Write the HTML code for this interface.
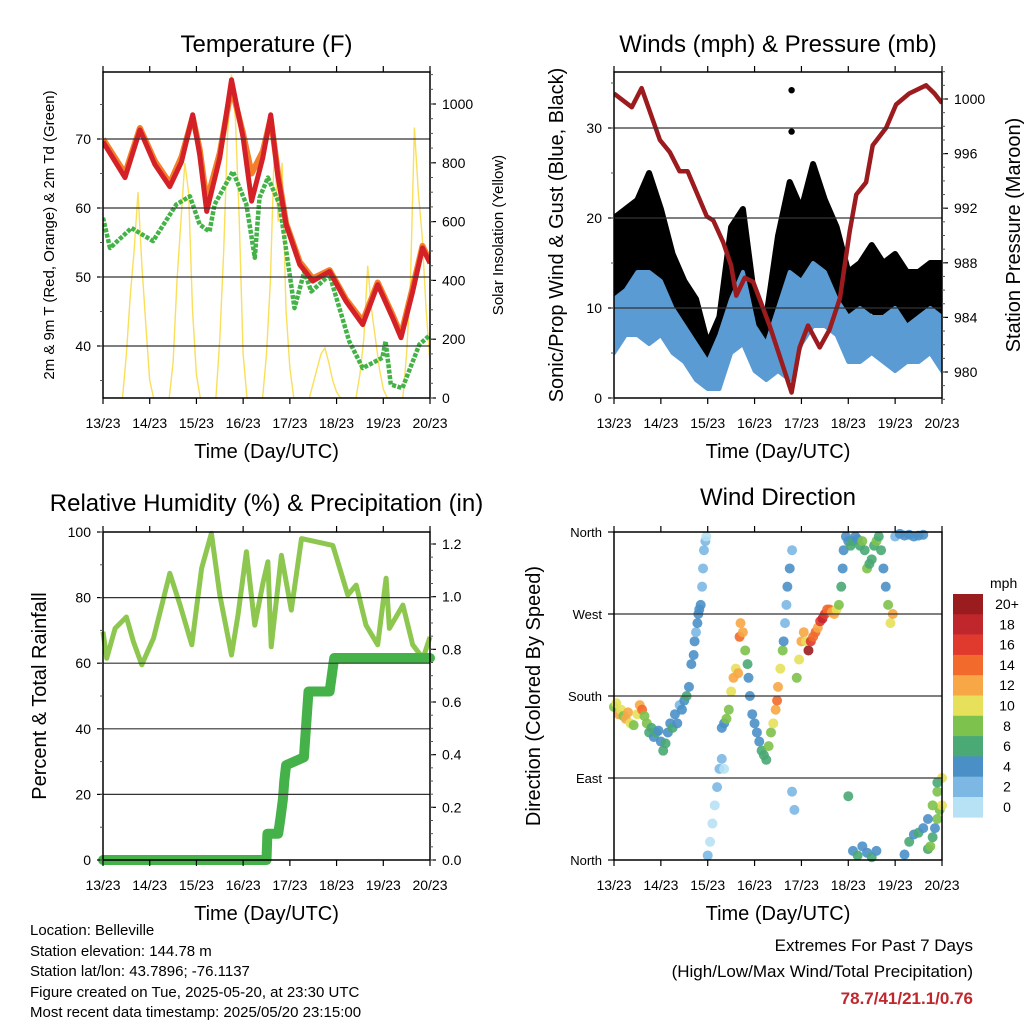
<!DOCTYPE html>
<html><head><meta charset="utf-8">
<style>
html,body{margin:0;padding:0;background:#fff;}
svg{display:block;font-family:"Liberation Sans",Arial,sans-serif;}
</style></head>
<body>
<svg id="chart" width="1024" height="1024" viewBox="0 0 1024 1024" xmlns="http://www.w3.org/2000/svg">
<rect width="1024" height="1024" fill="#fff"/>
<defs>
<clipPath id="c1"><rect x="103" y="72" width="327" height="326"/></clipPath>
<clipPath id="c2"><rect x="614" y="72" width="328" height="326"/></clipPath>
</defs>
<g id="layer"></g>
<g font-size="15" fill="#000">
<text x="30" y="935">Location: Belleville</text>
<text x="30" y="956">Station elevation: 144.78 m</text>
<text x="30" y="976">Station lat/lon: 43.7896; -76.1137</text>
<text x="30" y="997">Figure created on Tue, 2025-05-20, at 23:30 UTC</text>
<text x="30" y="1017">Most recent data timestamp: 2025/05/20 23:15:00</text>
</g>
<g text-anchor="end">
<text x="973" y="951" font-size="17">Extremes For Past 7 Days</text>
<text x="973" y="977" font-size="17">(High/Low/Max Wind/Total Precipitation)</text>
<text x="973" y="1004" font-size="17" font-weight="bold" fill="#c0272d">78.7/41/21.1/0.76</text>
</g>
</svg>
<script>
// ---------- DATA ----------
const dayLabels = ["13/23","14/23","15/23","16/23","17/23","18/23","19/23","20/23"];
const tempDays = [0,0.47,0.79,1.11,1.43,1.68,1.92,2.07,2.22,2.5,2.75,3.0,3.18,3.42,3.59,3.74,3.92,4.21,4.49,4.85,5.2,5.56,5.88,6.2,6.38,6.63,6.84,7.0];
const tempRed = [69.6,64.4,71.3,66.3,63.1,66.7,73.5,67.7,59.5,67.3,78.6,70.2,61,67.3,73.5,64.8,57.6,51.8,49.4,50.8,46.5,43.1,48.9,44.1,41.2,47.9,54.2,52];
const tempOrange = [70,65,71.6,66.8,63.6,67.4,73.2,68.5,61,68,77.5,70.8,65,68.2,73,65.4,57.8,52.2,49.8,51,46.8,43.6,49.2,44.5,41.6,48.5,54.5,52.3];
const dewDays = [0,0.15,0.61,1.07,1.57,1.86,2.07,2.28,2.39,2.78,3.07,3.25,3.35,3.53,3.78,4.1,4.31,4.46,4.85,5.27,5.56,5.98,6.05,6.16,6.41,6.77,7.0];
const dewPt = [58.6,54.2,57.1,55.2,60.5,61.7,57.6,56.6,60.5,65.3,60.5,52.8,61.5,64.4,60.5,45.5,50.8,47.9,50.3,40.7,36.8,38.3,40.7,34.4,33.9,40.2,41.6];
const solarStepHours = 2;
const solar = [0,0,0,0,0, 0,150,350,500,700,450,250,60,0, 0,0,0, 0,120,400,600,800,700,300,80,0, 0,0,0, 0,200,500,900,1100,950,600,150,0, 0,0,0, 0,150,400,850,600,800,300,100,0, 0,0,0, 0,50,100,150,170,120,60,20,0, 0,0,0, 0,80,200,450,300,200,100,30,0, 0,0,0, 0,150,400,920,700,550,300,120];
const windDays = [0,0.25,0.5,0.75,1,1.25,1.5,1.75,2,2.25,2.5,2.75,3,3.25,3.5,3.75,4,4.25,4.5,4.75,5,5.25,5.5,5.75,6,6.25,6.5,6.75,7];
const sustLo = [5,7,7,6,7,5,4,2,1,1,5,6,3,2,3,2,6,8,8,7,4,4,5,4,3,4,4,5,3];
const sustHi = [11,12,14,14,13,10,8,6,4,7,11,14,8,6,10,14,13,15,14,11,9,10,9,9,10,8,9,10,9];
const gustLo = [9,10,12,12,10,8,6,4,2,3,9,10,5,4,8,8,10,13,12,10,8,8,10,8,9,8,8,9,8];
const gustHi = [20,21,22,25,21,16,13,11,6,9,19,21,11,9,18,24,21,26,22,19,14,15,17,15,16,14,14,15,15];
const gustOutDays = [3.79,3.79];
const gustOutVals = [34.2,29.6];
const presDays = [0,0.38,0.59,0.98,1.19,1.4,1.57,1.98,2.12,2.33,2.5,2.61,2.79,2.97,3.32,3.57,3.79,3.96,4.14,4.39,4.6,4.82,5.03,5.17,5.38,5.52,5.81,6.02,6.3,6.66,6.84,7.0];
const pressure = [1000.4,999.4,1000.8,997,996.1,994.7,994.7,991.4,991.1,989.5,987.8,985.6,986.9,986.6,983.4,980.8,978.5,981.8,983.4,981.8,983.1,985.4,990.3,993,993.9,996.6,997.9,999.6,1000.4,1001,1000.4,999.7];
const rhDays = [0,0.08,0.26,0.5,0.65,0.83,1.08,1.43,1.65,1.9,2.11,2.32,2.5,2.75,2.89,3.07,3.25,3.43,3.53,3.6,3.82,4.03,4.25,4.57,4.92,5.24,5.42,5.63,5.88,6.06,6.13,6.42,6.63,6.85,7.0];
const rh = [69.6,61.5,70.6,74.1,66.6,59.5,67.6,87.4,77.7,65.6,88.9,99.6,80.8,62.5,74.7,94,71.6,84.8,90.9,65,92.9,76.2,98,97,95.9,80.8,83.8,71.6,65.6,85.9,70.6,77.7,65.6,61.5,68];
const rainDays = [0,3.5,3.52,3.75,3.8,3.85,3.88,3.92,4.3,4.4,4.85,4.95,7.0];
const rain = [0,0,0.1,0.1,0.16,0.23,0.3,0.36,0.39,0.64,0.64,0.767,0.767];
const dirDays = [0.0,0.05,0.1,0.15,0.2,0.25,0.3,0.35,0.42,0.5,0.55,0.6,0.65,0.7,0.75,0.8,0.85,0.9,0.95,1.0,1.05,1.1,1.15,1.2,1.25,1.3,1.35,1.4,1.45,1.5,1.55,1.6,1.65,1.7,1.72,1.75,1.78,1.8,1.82,1.85,1.88,1.9,1.92,1.95,1.97,2.0,2.05,2.1,2.15,2.2,2.25,2.3,2.35,2.3,2.35,2.4,2.45,2.5,2.55,2.6,2.65,2.68,2.7,2.75,2.8,2.85,2.87,2.9,2.95,3.0,3.05,3.1,3.15,3.2,3.25,3.3,3.35,3.4,3.45,3.48,3.5,3.55,3.6,3.62,3.65,3.68,3.7,3.75,3.8,3.8,3.85,3.9,3.95,4.0,4.05,4.1,4.15,4.2,4.25,4.3,4.35,4.4,4.45,4.5,4.55,4.6,4.65,4.7,4.75,4.8,4.85,4.88,4.9,4.95,5.0,5.05,5.1,5.15,5.2,5.25,5.3,5.35,5.4,5.45,5.5,5.55,5.6,5.65,5.7,5.75,5.8,5.85,5.9,5.95,6.0,6.1,6.2,6.3,6.4,6.5,6.6,6.7,6.75,6.8,6.85,6.9,6.95,7.0,5.0,5.1,5.2,5.3,5.4,5.5,5.6,6.2,6.3,6.4,6.5,6.6,6.7,6.8,6.9,7.0,6.9,6.95];
const dirDeg = [168,172,160,165,158,155,162,150,148,160,170,165,158,150,140,145,135,140,142,130,120,128,140,150,145,160,150,170,165,175,180,190,215,225,240,250,260,270,275,280,300,320,340,350,355,5,20,40,60,80,100,111,100,145,150,155,165,185,200,210,205,245,260,250,230,215,200,180,160,150,140,130,120,115,110,125,140,150,165,175,190,210,230,240,260,280,300,320,340,75,55,200,220,240,250,240,230,240,245,250,255,262,265,270,275,275,272,270,275,280,300,320,340,355,350,345,350,355,352,345,350,340,320,325,330,345,350,355,340,320,300,280,260,270,355,358,356,357,355,356,357,12,15,25,35,45,55,60,70,10,5,15,8,3,10,6,20,28,30,35,45,60,75,90,85];
const dirSpeed = [9,11,12,10,9,13,12,10,8,11,12,14,9,8,6,7,5,6,4,4,6,7,5,5,6,5,4,3,4,4,6,5,4,4,5,3,4,4,5,4,3,2,2,2,1,2,1,1,1,2,2,2,1,4,5,8,9,10,12,11,13,14,13,12,8,6,4,4,4,4,5,5,6,7,7,8,9,10,12,14,12,11,9,4,3,2,4,5,3,2,2,8,10,13,12,10,20,17,15,14,12,16,18,17,15,14,13,12,11,9,6,4,4,5,4,6,7,5,4,6,8,7,8,6,6,7,8,6,6,5,5,8,10,12,3,4,4,5,4,4,5,7,8,6,5,9,8,10,7,5,6,4,5,6,5,4,6,5,6,5,4,8,9,10,7,8];
const speedColors = ["#b7e1f5","#7cb8e3","#4a90c6","#4aa974","#7dc24c","#e6e05a","#f7a745","#f26a2c","#e03a2e","#c0272d","#9b1c1f"];
const legendLabels = ["0","2","4","6","8","10","12","14","16","18","20+"];

// ---------- HELPERS ----------
const NS = "http://www.w3.org/2000/svg";
const layer = document.getElementById('layer');
function mk(tag, attrs, parent){
  const e = document.createElementNS(NS, tag);
  for (const k in attrs) e.setAttribute(k, attrs[k]);
  (parent||layer).appendChild(e);
  return e;
}
function txt(s, attrs, parent){ const e = mk('text', attrs, parent); e.textContent = s; return e; }
function scale(d0,d1,r0,r1){ return v => r0 + (v-d0)/(d1-d0)*(r1-r0); }
function pathFrom(xs, ys, fx, fy){ return xs.map((d,i)=>(i?'L':'M')+fx(d).toFixed(1)+','+fy(ys[i]).toFixed(1)).join(''); }
function rng(a,b,s){ const r=[]; for(let v=a; v<=b+1e-9; v+=s) r.push(+v.toFixed(4)); return r; }

function frame(p){
  const g = mk('g', {});
  
  
  p.grid.forEach(v=>{
    const ln = mk('line',{x1:p.x0,x2:p.x1,y1:p.fy(v),y2:p.fy(v),stroke:'#333','stroke-width':1.2},g);
    
    
  });
  mk('rect',{x:p.x0,y:p.y0,width:p.x1-p.x0,height:p.y1-p.y0,fill:'none',stroke:'#000','stroke-width':1.5},g);
  const fx = scale(0,7,p.x0,p.x1);
  dayLabels.forEach((l,i)=>{
    const x = fx(i);
    mk('line',{x1:x,x2:x,y1:p.y1,y2:p.y1+6,stroke:'#000','stroke-width':1.2},g);
    mk('line',{x1:x,x2:x,y1:p.y0,y2:p.y0-6,stroke:'#000','stroke-width':1.2},g);
    const t = txt(l,{x:x,y:p.y1+30,'font-size':14,'text-anchor':'middle'},g);
    
    
  });
  p.lticks.forEach((v,i)=>{
    const y = p.fy(v);
    mk('line',{x1:p.x0-6,x2:p.x0,y1:y,y2:y,stroke:'#000','stroke-width':1.2},g);
    const t = txt(p.llabels[i],{x:p.x0-12,y:y+5,'font-size':p.lfs||14,'text-anchor':'end'},g);
    
    
  });
  (p.lminor||[]).forEach(v=>{ const y=p.fy(v); mk('line',{x1:p.x0-3,x2:p.x0,y1:y,y2:y,stroke:'#555','stroke-width':1},g); });
  if (p.rticks){
    p.rticks.forEach((v,i)=>{
      const y = p.fry(v);
      mk('line',{x1:p.x1,x2:p.x1+6,y1:y,y2:y,stroke:'#000','stroke-width':1.2},g);
      const t = txt(p.rlabels[i],{x:p.x1+12,y:y+5,'font-size':14},g);
      
      
    });
    (p.rminor||[]).forEach(v=>{ const y=p.fry(v); mk('line',{x1:p.x1,x2:p.x1+3,y1:y,y2:y,stroke:'#555','stroke-width':1},g); });
  }
  const tt = txt(p.title,{x:(p.x0+p.x1)/2,y:p.titleY,'font-size':24,'text-anchor':'middle'},g);
  
  
  const xt = txt('Time (Day/UTC)',{x:(p.x0+p.x1)/2,y:p.y1+60,'font-size':20,'text-anchor':'middle'},g);
  
  
  const cy = (p.y0+p.y1)/2;
  const lt = txt(p.ltitle,{x:p.ltx,y:cy,'font-size':p.ltfs,'text-anchor':'middle',transform:`rotate(-90 ${p.ltx} ${cy})`},g);
  
  
  if (p.rtitle){
    const rt = txt(p.rtitle,{x:p.rtx,y:cy,'font-size':p.rtfs,'text-anchor':'middle',transform:`rotate(-90 ${p.rtx} ${cy})`},g);
    
    
  }
}

// ---------- PANEL 1 ----------
(function(){
  const x0=103,x1=430,y0=72,y1=398;
  const fy = scale(40,70,346,139);
  const fry = scale(0,1000,398,104);
  const fx = scale(0,7,x0,x1);
  const g = mk('g',{'clip-path':'url(#c1)'});
  
  
  const sx = solar.map((v,i)=>i*solarStepHours/24);
  const sol = mk('path',{d:pathFrom(sx,solar,fx,fry),fill:'none',stroke:'#f9df5a','stroke-width':1.4},g);
  
  
  const dw = mk('path',{d:pathFrom(dewDays,dewPt,fx,fy),fill:'none',stroke:'#43b347','stroke-width':4.5,'stroke-dasharray':'4 1.5','stroke-linejoin':'round'},g);
  
  
  const or = mk('path',{d:pathFrom(tempDays,tempOrange,fx,fy),fill:'none',stroke:'#f47f2a','stroke-width':6,'stroke-linejoin':'round'},g);
  
  
  const rd = mk('path',{d:pathFrom(tempDays,tempRed,fx,fy),fill:'none',stroke:'#d42027','stroke-width':5,'stroke-linejoin':'round'},g);
  
  
  frame({name:'temperature',x0,x1,y0,y1,fy,fry,grid:[40,50,60,70],lticks:[40,50,60,70],llabels:['40','50','60','70'],
    lminor:rng(35,75,5),rticks:[0,200,400,600,800,1000],rlabels:['0','200','400','600','800','1000'],rminor:rng(0,1100,50),
    title:'Temperature (F)',titleY:52,ltitle:'2m & 9m T (Red, Orange) & 2m Td (Green)',ltx:54,ltfs:15,
    rtitle:'Solar Insolation (Yellow)',rtx:503,rtfs:15});
})();

// ---------- PANEL 2 ----------
(function(){
  const x0=614,x1=942,y0=72,y1=398;
  const fy = scale(0,30,398,128);
  const fry = scale(980,1000,372,99);
  const fx = scale(0,7,x0,x1);
  const g = mk('g',{'clip-path':'url(#c2)'});
  
  
  const gb = mk('path',{d:pathFrom(windDays,gustHi,fx,fy)+pathFrom(windDays.slice().reverse(),gustLo.slice().reverse(),fx,fy).replace('M','L')+'Z',fill:'#000',stroke:'#000','stroke-width':6,'stroke-linejoin':'round'},g);
  
  
  gustOutDays.forEach((d,i)=>{
    const c = mk('circle',{cx:fx(d),cy:fy(gustOutVals[i]),r:3.2,fill:'#000'},g);
    
    
  });
  const sb = mk('path',{d:pathFrom(windDays,sustHi,fx,fy)+pathFrom(windDays.slice().reverse(),sustLo.slice().reverse(),fx,fy).replace('M','L')+'Z',fill:'#5a9bd3',stroke:'#5a9bd3','stroke-width':4,'stroke-linejoin':'round'},g);
  
  
  const pr = mk('path',{d:pathFrom(presDays,pressure,fx,fry),fill:'none',stroke:'#9b1b1e','stroke-width':4.5,'stroke-linejoin':'round'},g);
  
  
  frame({name:'winds',x0,x1,y0,y1,fy,fry,grid:[10,20,30],lticks:[0,10,20,30],llabels:['0','10','20','30'],lminor:rng(0,35,5),
    rticks:[980,984,988,992,996,1000],rlabels:['980','984','988','992','996','1000'],rminor:rng(978,1002,1),
    title:'Winds (mph) & Pressure (mb)',titleY:52,ltitle:'Sonic/Prop Wind & Gust (Blue, Black)',ltx:563,ltfs:20,
    rtitle:'Station Pressure (Maroon)',rtx:1020,rtfs:20});
})();

// ---------- PANEL 3 ----------
(function(){
  const x0=103,x1=430,y0=532,y1=860;
  const fy = scale(0,100,860,532);
  const fry = scale(0,1.2,860,544);
  const fx = scale(0,7,x0,x1);
  const g = mk('g',{});
  
  
  const rl = mk('path',{d:pathFrom(rhDays,rh,fx,fy),fill:'none',stroke:'#8dc750','stroke-width':5,'stroke-linejoin':'round'},g);
  
  
  const pl = mk('path',{d:pathFrom(rainDays,rain,fx,fry),fill:'none',stroke:'#45b149','stroke-width':10,'stroke-linejoin':'round','stroke-linecap':'round'},g);
  
  
  frame({name:'humidity',x0,x1,y0,y1,fy,fry,grid:[20,40,60,80],lticks:[0,20,40,60,80,100],llabels:['0','20','40','60','80','100'],lminor:rng(0,100,10),
    rticks:[0,0.2,0.4,0.6,0.8,1.0,1.2],rlabels:['0.0','0.2','0.4','0.6','0.8','1.0','1.2'],rminor:rng(0,1.2,0.05),
    title:'Relative Humidity (%) & Precipitation (in)',titleY:511,ltitle:'Percent & Total Rainfall',ltx:46,ltfs:20});
})();

// ---------- PANEL 4 ----------
(function(){
  const x0=614,x1=942,y0=532,y1=860;
  const fy = scale(0,360,860,532);
  const fx = scale(0,7,x0,x1);
  const g = mk('g',{});
  
  
  const n = Math.min(dirDays.length, dirDeg.length, dirSpeed.length);
  for (let i=0;i<n;i++){
    const bin = Math.min(10, Math.floor(dirSpeed[i]/2));
    const c = mk('circle',{cx:fx(dirDays[i]),cy:fy(dirDeg[i]),r:5,fill:speedColors[bin],'fill-opacity':0.9},g);
    
    
  }
  frame({name:'wind-direction',x0,x1,y0,y1,fy,grid:[90,180,270],lticks:[0,90,180,270,360],llabels:['North','East','South','West','North'],lfs:13,
    title:'Wind Direction',titleY:505,ltitle:'Direction (Colored By Speed)',ltx:540,ltfs:20});
  const lg = mk('g',{});
  
  
  txt('mph',{x:990,y:588,'font-size':14},lg);
  for (let i=0;i<11;i++){
    const k = 10-i;
    const y = 594 + i*20.3;
    const r = mk('rect',{x:953,y:y,width:30,height:20.6,fill:speedColors[k]},lg);
    
    
    const t = txt(legendLabels[k],{x:1007,y:y+15,'font-size':14,'text-anchor':'middle'},lg);
    
    
  }
})();
</script>
</body></html>
